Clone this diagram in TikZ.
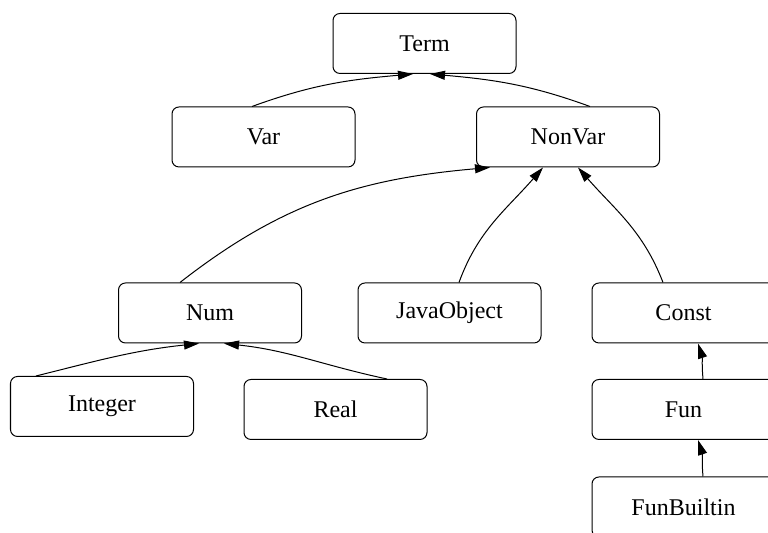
\documentclass[tikz,border=0pt]{standalone}
\usepackage{fontspec}
\setmainfont{LiberationSerif}[Extension=.ttf, UprightFont=*-Regular]
\usetikzlibrary{arrows.meta}
\tikzset{
	cls/.style={draw, rounded corners=3.5pt, minimum width=91.5pt, minimum height=30pt,
		inner sep=0pt, line width=0.5pt, font=\fontsize{12}{14}\selectfont},
	isa/.style={-{Triangle[length=7.5pt,width=4.5pt]}, line width=0.5pt},
}
\begin{document}
\begin{tikzpicture}[x=0.5pt,y=0.5pt]
	\useasboundingbox (0,0) rectangle (768,533);
	\clip (0,0) rectangle (768,533);
	% classes
	\node[cls] (term) at (424.5,489.5) {Term};
	\node[cls] (var) at (263.5,396) {Var};
	\node[cls] (nonvar) at (568,396) {NonVar};
	\node[cls] (num) at (210,220) {Num};
	\node[cls] (javaobj) at (449.5,220) {JavaObject};
	\node[cls] (const) at (683.5,220) {Const};
	\node[cls] (integer) at (102,126.5) {Integer};
	\node[cls] (real) at (335.5,123.5) {Real};
	\node[cls] (fun) at (683.5,123.5) {Fun};
	\node[cls] (funbuiltin) at (683.5,26) {FunBuiltin};
	% inheritance
	\draw[isa] ([xshift=-5.75pt]var.north) to[out=20,in=185] ([xshift=-5.75pt]term.south);
	\draw[isa] ([xshift=11pt]nonvar.north) to[out=160,in=-5] ([xshift=2.75pt]term.south);
	\draw[isa] ([xshift=-15pt]num.north) to[out=38,in=185] ([xshift=-39pt]nonvar.south);
	\draw[isa] ([xshift=4.75pt]javaobj.north) to[out=70,in=229] ([xshift=-12.5pt]nonvar.south);
	\draw[isa] ([xshift=-10.25pt]const.north) to[out=111,in=-49] ([xshift=5pt]nonvar.south);
	\draw[isa] ([xshift=-33pt]integer.north) to[out=14,in=186] ([xshift=-5.5pt]num.south);
	\draw[isa] ([xshift=25.75pt]real.north) to[out=168,in=-6] ([xshift=7pt]num.south);
	\draw[isa] ([xshift=9.75pt]fun.north) to[out=95,in=-72] ([xshift=7.25pt]const.south);
	\draw[isa] ([xshift=9.75pt]funbuiltin.north) to[out=95,in=-72] ([xshift=7.25pt]fun.south);
\end{tikzpicture}
\end{document}
